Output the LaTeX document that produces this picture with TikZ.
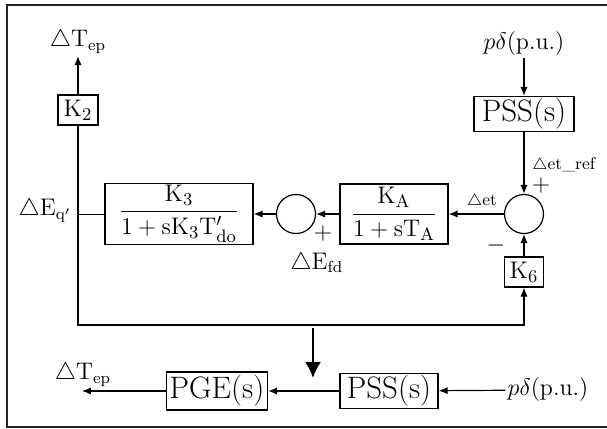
\documentclass[tikz,border=0pt]{standalone}
\usepackage{amsmath,amssymb}
\usepackage{tikz}
\usetikzlibrary{calc,arrows.meta,positioning}
\tikzset{
  ar/.style={-{Latex[length=4.5pt,width=3.6pt]},line width=0.6pt},
  bigar/.style={-{Latex[length=8pt,width=8pt]},line width=1pt},
  box/.style={draw,line width=0.6pt,inner sep=1pt,align=center},
  sumc/.style={draw,circle,line width=0.6pt,minimum size=19.5pt,inner sep=0pt},
  lbl/.style={inner sep=1pt,font=\fontsize{12}{14}\selectfont},
  smalllbl/.style={inner sep=1pt,font=\fontsize{8.5}{10}\selectfont},
  gainfont/.style={font=\fontsize{13}{15}\selectfont},
  tffont/.style={font=\fontsize{12.5}{14}\selectfont},
  pssfont/.style={font=\fontsize{15.5}{17}\selectfont}
}

\begin{document}
\begin{tikzpicture}[x=0.5pt,y=-0.5pt]
\useasboundingbox (0,0) rectangle (607,429);
% frame
\draw[line width=0.6pt,black!85] (607,5) -- (7,5) -- (7,427) -- (607,427);
% upper loop
\node[box,gainfont,minimum width=20pt,minimum height=15pt] (k2) at (78,110) {$\mathrm{K}_2$};
\node[lbl] (tep1) at (78,42) {$\triangle\mathrm{T}_{\mathrm{ep}}$};
\node[box,tffont,minimum width=74pt,minimum height=30pt] (k3) at (179,214)
  {$\dfrac{\mathrm{K}_3}{1+\mathrm{sK}_3\mathrm{T}'_{\mathrm{do}}}$};
\node[sumc] (sum1) at (296,214) {};
\node[box,tffont,minimum width=54pt,minimum height=30pt] (ka) at (394,214)
  {$\dfrac{\mathrm{K}_{\mathrm{A}}}{1+\mathrm{sT}_{\mathrm{A}}}$};
\node[sumc] (sum2) at (524,214) {};
\node[box,pssfont,minimum width=50pt,minimum height=17.5pt] (pss1) at (524,114) {PSS(s)};
\node[lbl] (pd1) at (524,44) {$p\delta$(p.u.)};
\node[box,gainfont,minimum width=19.5pt,minimum height=15pt] (k6) at (524,272) {$\mathrm{K}_6$};
\coordinate (jq) at (78,214);
\coordinate (lc) at (78,325);
\node[lbl] (eq) at (45,211) {$\triangle\mathrm{E}_{\mathrm{q}'}$};
\node[lbl,anchor=west] (efd) at (288,263) {$\triangle\mathrm{E}_{\mathrm{fd}}$};
\node[lbl] (p1) at (323,233) {$+$};
\node[smalllbl] (det) at (482,201) {$\triangle$et};
\node[smalllbl,anchor=west] (detref) at (530,165) {$\triangle$et\_ref};
\node[lbl] (p2) at (541,185) {$+$};
\node[lbl] (m2) at (496,245) {$-$};
\draw[ar] (pd1) -- (pss1);
\draw[ar] (pss1) -- (sum2);
\draw[ar] (sum2) -- (ka);
\draw[ar] (ka) -- (sum1);
\draw[ar] (sum1) -- (k3);
\draw (k3.west) -- (jq);
\draw[ar] (k2) -- (tep1);
\draw[line width=0.6pt] (k2) -- (jq);
\draw[ar] (jq) -- (lc) -| (k6.south);
\draw[ar] (k6) -- (sum2);
% transformation arrow
\coordinate (dt) at (313,328);
\coordinate (db) at (313,378);
\draw[bigar] (dt) -- (db);
% lower chain
\node[box,pssfont,minimum width=50.5pt,minimum height=19pt] (pge) at (217,391) {PGE(s)};
\node[box,pssfont,minimum width=49pt,minimum height=16pt] (pss2) at (389,391) {PSS(s)};
\node[lbl] (pd2) at (548,390) {$p\delta$(p.u.)};
\coordinate (tepend) at (82,391);
\node[lbl] (tep2) at (83,375) {$\triangle\mathrm{T}_{\mathrm{ep}}$};
\draw[ar] (pd2) -- (pss2);
\draw[ar] (pss2) -- (pge);
\draw[ar] (pge) -- (tepend);
\end{tikzpicture}
\end{document}
